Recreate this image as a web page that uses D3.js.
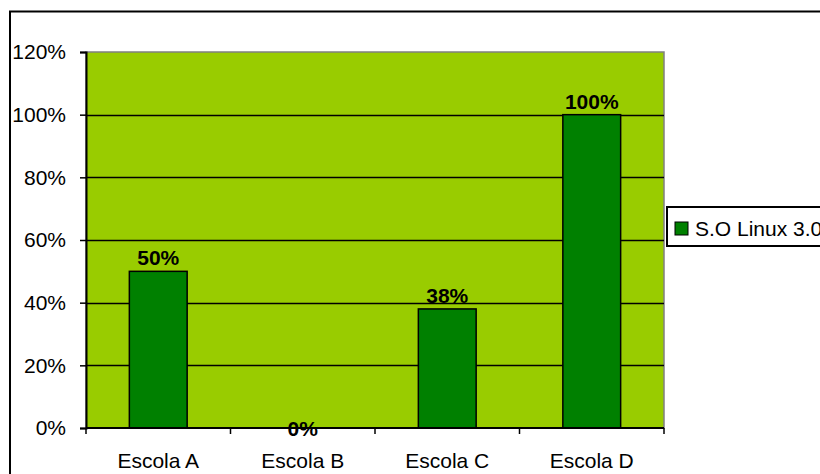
<!DOCTYPE html>
<html lang="pt">
    <head>
        <meta charset="UTF-8">
        <title>S.O Linux 3.0</title>
        <style>
            html, body {
                margin: 0;
                padding: 0;
                background: #ffffff;
            }
            * {
                font-family: "Liberation Sans", Arial, sans-serif;
            }
        </style>
        <script src="https://cdn.jsdelivr.net/npm/d3@7"></script>
    </head>
    <body>
        <svg id="chart"></svg>
    <script>
        const categories = ["Escola A", "Escola B", "Escola C", "Escola D"];
        const values = [0.50, 0.00, 0.38, 1.00];
        const yTicks = [0, 0.2, 0.4, 0.6, 0.8, 1.0, 1.2];
        const seriesName = "S.O Linux 3.0";

        const width = 820;
        const height = 474;
        const plot = {left: 86, top: 52, right: 664, bottom: 428};
        const pct = d3.format(".0%");

        const svg = d3.select("#chart")
            .attr("width", width)
            .attr("height", height);

        // outer chart frame (runs off the right/bottom edge)
        svg.append("rect")
            .attr("x", 10)
            .attr("y", 11.5)
            .attr("width", 900)
            .attr("height", 600)
            .attr("fill", "white")
            .attr("stroke", "black")
            .attr("stroke-width", 2);

        const x = d3.scaleBand()
            .domain(categories)
            .range([plot.left, plot.right])
            .paddingInner(0.6)
            .paddingOuter(0.3);

        const y = d3.scaleLinear()
            .domain([0, 1.2])
            .range([plot.bottom, plot.top]);

        // plot background
        svg.append("rect")
            .attr("x", plot.left)
            .attr("y", plot.top)
            .attr("width", plot.right - plot.left)
            .attr("height", plot.bottom - plot.top)
            .attr("fill", "#99cc00")
            .attr("stroke", "#808080")
            .attr("stroke-width", 1.5);

        // gridlines
        svg.append("g")
            .selectAll("line")
            .data(yTicks.filter(t => t > 0 && t < 1.2))
            .join("line")
            .attr("x1", plot.left)
            .attr("x2", plot.right)
            .attr("y1", d => Math.round(y(d)) + 0.5)
            .attr("y2", d => Math.round(y(d)) + 0.5)
            .attr("stroke", "black")
            .attr("stroke-width", 1.3);

        // bars
        svg.append("g")
            .selectAll("rect")
            .data(values)
            .join("rect")
            .attr("x", (d, i) => x(categories[i]))
            .attr("y", d => y(d))
            .attr("width", x.bandwidth())
            .attr("height", d => y(0) - y(d))
            .attr("fill", "#008000")
            .attr("stroke", "black")
            .attr("stroke-width", 1.5);

        // y axis
        const yAxis = svg.append("g")
            .attr("transform", `translate(${plot.left},0)`)
            .call(d3.axisLeft(y).tickValues(yTicks).tickFormat(pct).tickSize(6).tickPadding(14));
        yAxis.select(".domain").attr("stroke-width", 2);
        yAxis.selectAll(".tick line").attr("stroke-width", 1.5);
        yAxis.selectAll("text")
            .attr("font-size", 21)
            .attr("fill", "black");

        // x axis, ticks between categories
        const xEdges = d3.range(categories.length + 1)
            .map(i => plot.left + i * x.step());
        const xAxis = svg.append("g")
            .attr("transform", `translate(0,${plot.bottom})`);
        xAxis.append("line")
            .attr("x1", plot.left)
            .attr("x2", plot.right)
            .attr("stroke", "black")
            .attr("stroke-width", 2);
        xAxis.selectAll(".edge")
            .data(xEdges)
            .join("line")
            .attr("class", "edge")
            .attr("x1", d => d)
            .attr("x2", d => d)
            .attr("y1", 0)
            .attr("y2", 6)
            .attr("stroke", "black")
            .attr("stroke-width", 1.5);
        xAxis.selectAll("text")
            .data(categories)
            .join("text")
            .attr("x", d => x(d) + x.bandwidth() / 2)
            .attr("y", 40)
            .attr("text-anchor", "middle")
            .attr("font-size", 21)
            .attr("fill", "black")
            .text(d => d);

        // data labels
        svg.append("g")
            .selectAll("text")
            .data(values)
            .join("text")
            .attr("x", (d, i) => x(categories[i]) + x.bandwidth() / 2)
            .attr("y", d => d > 0 ? y(d) - 6 : y(0) + 8)
            .attr("text-anchor", "middle")
            .attr("font-size", 21)
            .attr("font-weight", "bold")
            .attr("fill", "black")
            .text(d => pct(d));

        // legend
        const legend = svg.append("g")
            .attr("transform", "translate(667,207)");
        legend.append("rect")
            .attr("width", 200)
            .attr("height", 39)
            .attr("fill", "white")
            .attr("stroke", "black")
            .attr("stroke-width", 2);
        legend.append("rect")
            .attr("x", 8)
            .attr("y", 15)
            .attr("width", 13)
            .attr("height", 13)
            .attr("fill", "#008000")
            .attr("stroke", "black")
            .attr("stroke-width", 1);
        legend.append("text")
            .attr("x", 28)
            .attr("y", 29)
            .attr("font-size", 21)
            .attr("fill", "black")
            .text(seriesName);
    </script>
    </body>
</html>
